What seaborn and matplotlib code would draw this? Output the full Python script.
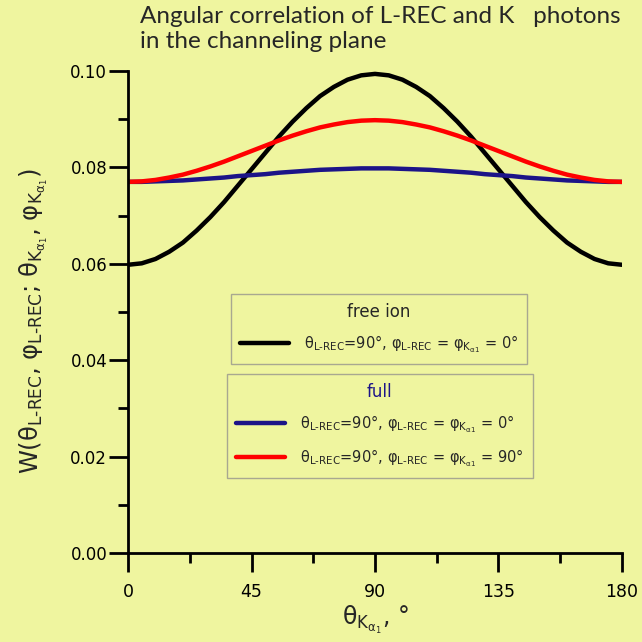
import matplotlib
matplotlib.use("Agg")
import matplotlib.pyplot as plt
from matplotlib.ticker import MultipleLocator, FormatStrFormatter
import seaborn as sns
import pandas as pd

# Emission angle of the K-alpha1 photon, degrees
theta_k = [0, 5, 10, 15, 20, 25, 30, 35, 40, 45, 50, 55, 60, 65, 70, 75, 80, 85, 90,
           95, 100, 105, 110, 115, 120, 125, 130, 135, 140, 145, 150, 155, 160, 165, 170, 175, 180]

# Free ion, phi_L-REC = phi_K = 0
w_free = [0.0598, 0.0601, 0.0610, 0.0625, 0.0644, 0.0669, 0.0697, 0.0728, 0.0762, 0.0796,
          0.0830, 0.0864, 0.0895, 0.0923, 0.0948, 0.0967, 0.0982, 0.0991, 0.0994,
          0.0991, 0.0982, 0.0967, 0.0948, 0.0923, 0.0895, 0.0864, 0.0830, 0.0796,
          0.0762, 0.0728, 0.0697, 0.0669, 0.0644, 0.0625, 0.0610, 0.0601, 0.0598]

# Full calculation, phi = 0
w_full_0 = [0.0770, 0.0770, 0.0771, 0.0772, 0.0773, 0.0775, 0.0777, 0.0779, 0.0782, 0.0784,
            0.0786, 0.0789, 0.0791, 0.0793, 0.0795, 0.0796, 0.0797, 0.0798, 0.0798,
            0.0798, 0.0797, 0.0796, 0.0795, 0.0793, 0.0791, 0.0789, 0.0786, 0.0784,
            0.0782, 0.0779, 0.0777, 0.0775, 0.0773, 0.0772, 0.0771, 0.0770, 0.0770]

# Full calculation, phi = 90
w_full_90 = [0.0770, 0.0771, 0.0774, 0.0779, 0.0785, 0.0793, 0.0802, 0.0812, 0.0823, 0.0834,
             0.0845, 0.0856, 0.0866, 0.0875, 0.0883, 0.0889, 0.0894, 0.0897, 0.0898,
             0.0897, 0.0894, 0.0889, 0.0883, 0.0875, 0.0866, 0.0856, 0.0845, 0.0834,
             0.0823, 0.0812, 0.0802, 0.0793, 0.0785, 0.0779, 0.0774, 0.0771, 0.0770]

x_ticks = [0, 45, 90, 135, 180]
y_ticks = [0.00, 0.02, 0.04, 0.06, 0.08, 0.10]

BG = "#eff59f"
NAVY = "#1c1488"
EDGE = "#a8a890"

sns.set_theme(style="ticks")
plt.rcParams["font.family"] = ["DejaVu Sans"]
plt.rcParams["mathtext.default"] = "regular"
plt.rcParams["mathtext.fontset"] = "dejavusans"

df = pd.DataFrame({"theta": theta_k, "free": w_free, "full0": w_full_0, "full90": w_full_90})

fig = plt.figure(figsize=(6.42, 6.42), dpi=100, facecolor=BG)
ax = fig.add_axes([0.1994, 0.1386, 0.7694, 0.7508])
ax.set_facecolor(BG)

sns.lineplot(data=df, x="theta", y="free", color="black", lw=3.2, ax=ax, label="_free")
sns.lineplot(data=df, x="theta", y="full0", color=NAVY, lw=3.2, ax=ax, label="_f0")
sns.lineplot(data=df, x="theta", y="full90", color="#ff0000", lw=3.2, ax=ax, label="_f90")
lines = ax.get_lines()

ax.set_xlim(0, 180)
ax.set_ylim(0, 0.10)
ax.set_xticks(x_ticks)
ax.set_yticks(y_ticks)
ax.xaxis.set_minor_locator(MultipleLocator(22.5))
ax.yaxis.set_minor_locator(MultipleLocator(0.01))
ax.yaxis.set_major_formatter(FormatStrFormatter("%.2f"))
sns.despine(ax=ax)
for s in ("left", "bottom"):
    ax.spines[s].set_linewidth(2.0)
    ax.spines[s].set_color("black")
ax.tick_params(which="major", length=13.5, width=2.0, color="black", labelcolor="black")
ax.tick_params(which="minor", length=7.5, width=2.0, color="black")
ax.tick_params(axis="y", which="major", pad=1.5, labelsize=12)
ax.tick_params(axis="x", which="major", pad=8, labelsize=12.5)

ax.set_xlabel(r"$\theta_{K_{\alpha_1}}$, °", fontsize=17, labelpad=2)
ax.set_ylabel(r"W($\theta_{L\text{-}REC}$, $\varphi_{L\text{-}REC}$; "
              r"$\theta_{K_{\alpha_1}}$, $\varphi_{K_{\alpha_1}}$)", fontsize=17.5)
ax.yaxis.set_label_coords(-0.158, 0.48)

fig.text(0.218, 0.99, "Angular correlation of L-REC and K   photons\nin the channeling plane",
         fontsize=17.5, family="Lato", va="top", ha="left", linespacing=1.2)

leg_kw = dict(frameon=True, fontsize=10.5, handlelength=3.4, handletextpad=1.0,
              borderpad=0.6, labelspacing=0.85, framealpha=1, fancybox=False,
              borderaxespad=0)

lab0 = r"$\theta_{L\text{-}REC}$=90°, $\varphi_{L\text{-}REC}$ = $\varphi_{K_{\alpha1}}$ = 0°"
lab90 = r"$\theta_{L\text{-}REC}$=90°, $\varphi_{L\text{-}REC}$ = $\varphi_{K_{\alpha1}}$ = 90°"

leg1 = ax.legend([lines[0]], [lab0], title="free ion", loc="upper left",
                 bbox_to_anchor=(0.2085, 0.537), **leg_kw)
leg2 = ax.legend([lines[1], lines[2]], [lab0, lab90], title="full", loc="upper left",
                 bbox_to_anchor=(0.2005, 0.371), **leg_kw)
leg2.get_title().set_color(NAVY)
for lg in (leg1, leg2):
    lg.get_title().set_fontsize(12)
    lg.get_frame().set_facecolor(BG)
    lg.get_frame().set_edgecolor(EDGE)
    lg.get_frame().set_linewidth(1.0)
ax.add_artist(leg1)

fig.savefig("out.png", dpi=100, facecolor=BG)
